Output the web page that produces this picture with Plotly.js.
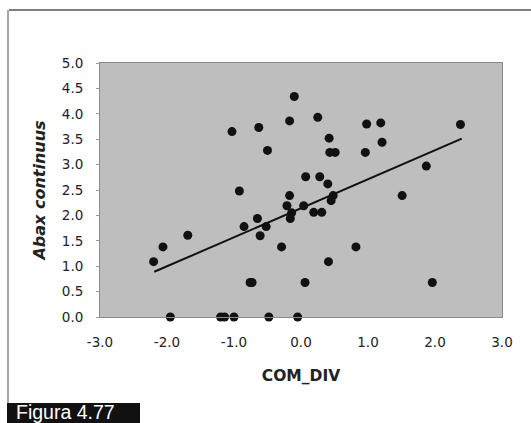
<!DOCTYPE html>
<html><head><meta charset="utf-8">
<script src="https://cdn.plot.ly/plotly-3.0.1.min.js"></script>
<style>html,body{margin:0;padding:0;background:#fff;}#chart{width:531px;height:423px;}</style>
</head><body><div id="chart"></div>
<script>
const comDiv = [-0.10,-0.17,-0.63,-1.03,-0.50,0.07,-0.92,-0.17,-0.21,0.04,-0.65,0.25,0.98,1.19,2.38,0.42,1.21,0.43,0.51,0.96,1.87,0.28,0.40,0.48,0.45,1.51,0.19,0.31,-0.14,-0.16,-0.85,-0.52,-0.61,-1.69,-2.06,-2.20,-0.29,-0.76,-0.73,0.06,0.82,0.41,1.96,-1.95,-1.20,-1.14,-1.00,-0.48,-0.05];
const abax   = [4.34,3.86,3.73,3.65,3.28,2.76,2.48,2.39,2.19,2.19,1.94,3.93,3.80,3.82,3.79,3.52,3.44,3.24,3.24,3.24,2.97,2.76,2.62,2.39,2.29,2.39,2.06,2.06,2.05,1.94,1.78,1.78,1.60,1.61,1.38,1.09,1.38,0.68,0.68,0.68,1.38,1.09,0.68,0,0,0,0,0,0];
const trendX = [-2.19, 2.40];
const trendY = [0.89, 3.51];
const xTicks = [-3,-2,-1,0,1,2,3];
const xTickText = ['-3.0','-2.0','-1.0','0.0','1.0','2.0','3.0'];
const yTicks = [0,0.5,1,1.5,2,2.5,3,3.5,4,4.5,5];
const yTickText = ['0.0','0.5','1.0','1.5','2.0','2.5','3.0','3.5','4.0','4.5','5.0'];

const L=100,R=502,T=63,B=317;
const px = v => (v-L)/(R-L);
const py = v => (B-v)/(B-T);

const data = [
  {x: comDiv, y: abax, type:'scatter', mode:'markers',
   marker:{color:'#111', size:9}, cliponaxis:false, hoverinfo:'none'},
  {x: trendX, y: trendY, type:'scatter', mode:'lines',
   line:{color:'#111', width:2}, hoverinfo:'none'}
];
const tickFont = {family:'DejaVu Sans, sans-serif', color:'#222', size:13.5};
const layout = {
  width:531, height:423,
  margin:{l:L, r:531-R, t:T, b:423-B},
  paper_bgcolor:'#fff', plot_bgcolor:'#bebebe',
  showlegend:false, font:tickFont,
  xaxis:{range:[-3,3], tickvals:xTicks, ticktext:xTickText, showgrid:false, zeroline:false,
         showline:true, linecolor:'#8a8a8a', linewidth:1, mirror:true, ticks:'', ticklabelstandoff:13,
         tickfont:tickFont,
         title:{text:'<b>COM_DIV</b>', font:{family:'DejaVu Sans, sans-serif', size:15.5, color:'#222'}, standoff:20}},
  yaxis:{range:[0,5], tickvals:yTicks, ticktext:yTickText, showgrid:false, zeroline:false,
         showline:true, linecolor:'#8a8a8a', linewidth:1, mirror:true, ticks:'outside', ticklen:3, tickcolor:'#999',
         ticklabelstandoff:10, tickfont:tickFont,
         title:{text:'<b><i>Abax continuus</i></b>', font:{family:'DejaVu Sans, sans-serif', size:16, color:'#222'}, standoff:12}},
  shapes:[
    {type:'line', xref:'paper', yref:'paper', x0:px(9), x1:px(531), y0:py(10), y1:py(10), line:{color:'#555', width:1.5}},
    {type:'line', xref:'paper', yref:'paper', x0:px(8), x1:px(8), y0:py(10), y1:py(404), line:{color:'#888', width:1.5}},
    {type:'rect', xref:'paper', yref:'paper', x0:px(7), x1:px(140), y0:py(403), y1:py(424), fillcolor:'#111', line:{width:0}}
  ],
  annotations:[
    {text:'Figura 4.77', xref:'paper', yref:'paper', x:px(14), y:py(412), xanchor:'left', yanchor:'middle',
     showarrow:false, font:{family:'Liberation Sans, Arial, sans-serif', size:19.5, color:'#fff'}}
  ]
};
Plotly.newPlot('chart', data, layout, {staticPlot:true});
</script></body></html>
